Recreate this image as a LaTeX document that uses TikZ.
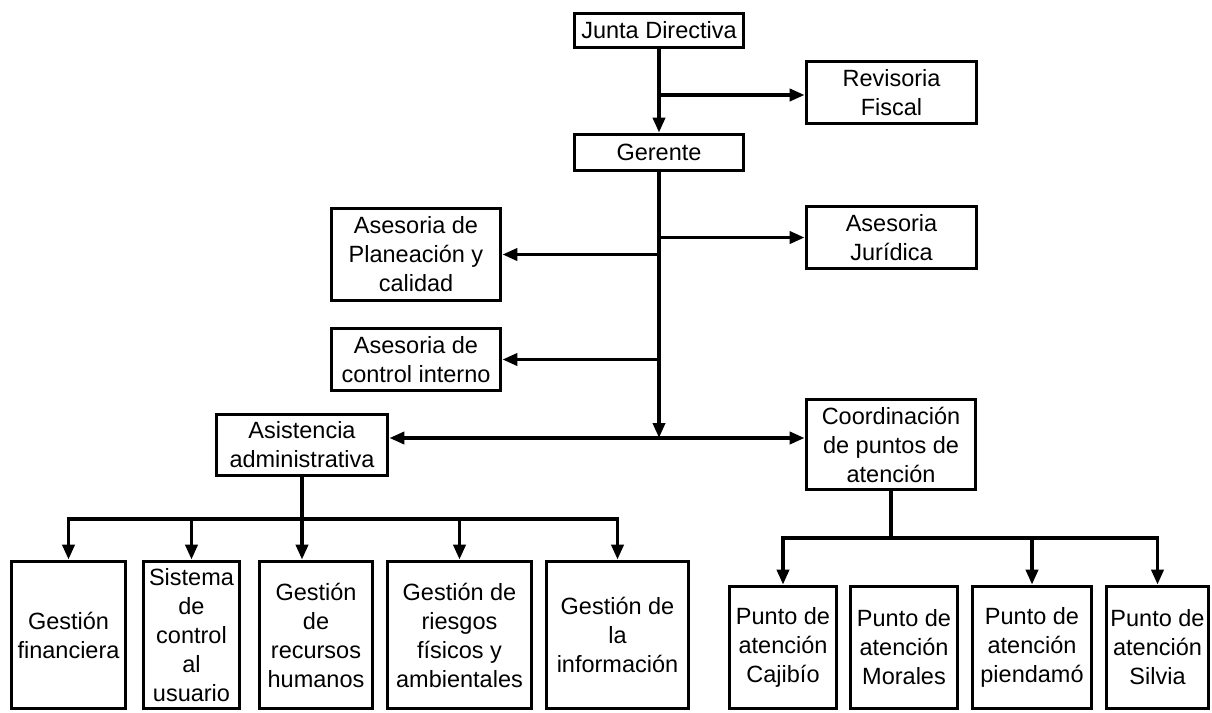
\documentclass[tikz,border=0pt]{standalone}
\usepackage{fontspec}
\setmainfont{Liberation Sans}
\usetikzlibrary{arrows.meta}
\begin{document}
\begin{tikzpicture}[x=1pt,y=-1pt,line width=3.7pt,>={Triangle[length=15pt,width=12pt]},
  caja/.style={draw,rectangle,align=center,inner sep=0pt,font=\fontsize{23.5}{29}\selectfont},
  baja/.style={caja,minimum height=147pt},
  punto/.style={caja,minimum height=122pt}]
\useasboundingbox (0,0) rectangle (1212,712);
\node[caja,minimum width=169pt,minimum height=34pt] (junta) at (659,30.5) {Junta Directiva};
\node[caja,minimum width=170pt,minimum height=62pt] (revisoria) at (891.5,92.5) {Revisoria\\Fiscal};
\node[caja,minimum width=169pt,minimum height=36pt] (gerente) at (659,152.5) {Gerente};
\node[caja,minimum width=170pt,minimum height=62pt] (juridica) at (891.5,237.5) {Asesoria\\Jurídica};
\node[caja,minimum width=169pt,minimum height=92pt] (planeacion) at (416,254.5) {Asesoria de\\Planeación y\\calidad};
\node[caja,minimum width=169pt,minimum height=62pt] (control) at (416,359.5) {Asesoria de\\control interno};
\node[caja,minimum width=171pt,minimum height=61pt] (asistencia) at (302,445) {Asistencia\\administrativa};
\node[caja,minimum width=169pt,minimum height=90pt] (coord) at (891,444.5) {Coordinación\\de puntos de\\atención};
% dependencias administrativas
\node[baja,minimum width=114pt] (financiera) at (68.5,635) {Gestión\\financiera};
\node[baja,minimum width=96pt] (sistema) at (191.5,635) {Sistema\\de\\control\\al\\usuario};
\node[baja,minimum width=113pt] (recursos) at (316,635) {Gestión\\de\\recursos\\humanos};
\node[baja,minimum width=144pt] (riesgos) at (459.5,635) {Gestión de\\riesgos\\físicos y\\ambientales};
\node[baja,minimum width=142pt] (informacion) at (617.5,635) {Gestión de\\la\\información};
% puntos de atencion
\node[punto,minimum width=107pt] (cajibio) at (783,647.5) {Punto de\\atención\\Cajibío};
\node[punto,minimum width=107pt] (morales) at (904,647.5) {Punto de\\atención\\Morales};
\node[punto,minimum width=119pt] (piendamo) at (1032,647.5) {Punto de\\atención\\piendamó};
\node[punto,minimum width=102pt] (silvia) at (1157.5,647.5) {Punto de\\atención\\Silvia};
\coordinate (hub) at (659,438);
\coordinate (busA) at (302,519);
\coordinate (busC) at (891,538);
\draw[->] (junta) -- (gerente);
\draw[->] (junta.south |- 0,95) -- (revisoria.west |- 0,95);
\draw[->] (gerente) -- (hub);
\draw[->] (gerente.south |- juridica.west) -- (juridica.west);
\draw[->] (gerente.south |- planeacion.east) -- (planeacion.east);
\draw[->] (gerente.south |- control.east) -- (control.east);
\draw[<->] (asistencia.east |- hub) -- (coord.west |- hub);
\draw (asistencia) -- (busA);
\draw[->] (busA) -- (asistencia.south |- recursos.north);
\foreach \n in {financiera,sistema,riesgos,informacion}
  \draw[->] (busA) -| (\n.north);
\draw (coord) -- (busC);
\foreach \n in {cajibio,piendamo,silvia}
  \draw[->] (busC) -| (\n.north);
\end{tikzpicture}
\end{document}
